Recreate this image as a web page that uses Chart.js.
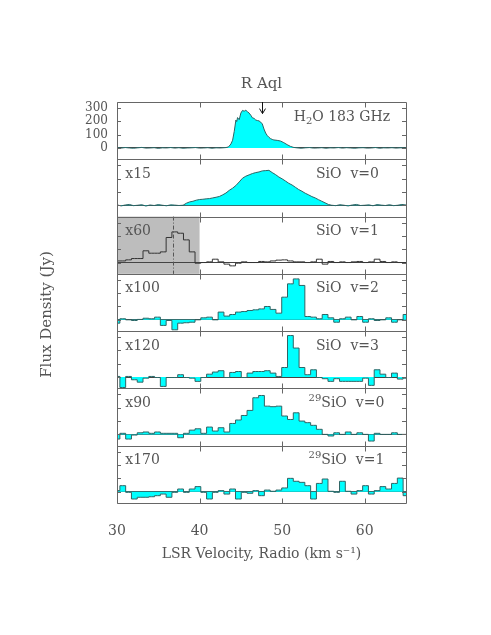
<!DOCTYPE html>
<html>
<head>
<meta charset="utf-8">
<script src="https://cdn.jsdelivr.net/npm/chart.js@4.4.1/dist/chart.umd.min.js"></script>
<style>
  html, body { margin: 0; padding: 0; background: #fff; }
  #box { width: 491px; height: 635px; }
</style>
</head>
<body>
<div id="box"><canvas id="spectra" width="491" height="635"></canvas></div>
<script>
// --- data ---
const h2oVel = [30.0,30.5,31.0,31.5,32.0,32.5,33.0,33.5,34.0,34.5,35.0,35.5,36.0,36.5,37.0,37.5,38.0,38.5,39.0,39.5,40.0,40.5,41.0,41.5,42.0,42.5,43.0,
  43.2,43.5,43.8,44.0,44.2,44.4,44.5,44.6,44.8,45.0,45.2,45.4,45.6,45.8,46.0,46.2,46.4,46.6,46.8,47.0,47.2,47.4,47.6,47.8,48.0,48.2,48.4,48.6,48.8,49.0,
  49.4,49.8,50.2,50.6,51.0,51.4,51.8,
  52.3,52.8,53.3,53.8,54.3,54.8,55.3,55.8,56.3,56.8,57.3,57.8,58.3,58.8,59.3,59.8,60.3,60.8,61.3,61.8,62.3,62.8,63.3,63.8,64.3,64.8,65.0];
const h2oFlux = [2,-1,3,0,-2,1,4,-1,0,2,-3,1,0,3,-1,2,-2,0,1,3,-1,0,2,-2,1,0,2,
  3,8,30,58,125,210,198,228,212,262,282,276,283,272,262,246,226,222,210,206,203,194,180,142,112,93,80,70,64,60,
  57,52,40,25,12,4,1,
  -2,1,3,-1,0,2,-2,1,0,3,-1,2,0,-2,1,2,-1,0,3,-2,1,0,2,-1,1,0,2];

const sioVel0 = [30.0,30.5,31.0,31.5,32.0,32.5,33.0,33.5,34.0,34.5,35.0,35.5,36.0,36.5,37.0,37.5,
  38.0,38.4,38.8,39.2,39.6,40.0,40.4,40.8,41.2,41.6,42.0,42.4,42.8,43.2,43.6,44.0,44.4,44.8,45.2,45.6,46.0,46.4,46.8,47.2,47.6,48.0,48.4,48.8,49.2,49.6,50.0,50.4,50.8,51.2,51.6,52.0,52.4,52.8,53.2,53.6,54.0,54.4,54.8,55.2,55.6,56.0,
  56.5,57.0,57.5,58.0,58.5,59.0,59.5,60.0,60.5,61.0,61.5,62.0,62.5,63.0,63.5,64.0,64.5,65.0];
const sioV0 = [3,-5,2,6,-3,0,4,-6,2,-2,5,0,-4,3,1,-2,
  0,15,25,30,38,43,45,48,50,55,60,66,78,92,112,128,148,175,203,218,228,238,245,250,258,260,262,245,230,212,198,182,165,152,135,118,105,90,78,65,55,42,30,18,6,0,
  -3,4,0,-5,2,6,-2,0,3,-4,5,1,-2,4,-3,0,6,2];

// coarse channels shared by the lower five panels
const chanVel = [30.0,30.7,31.4,32.1,32.8,33.5,34.2,34.9,35.6,36.3,37.0,37.7,38.4,39.1,39.8,40.5,41.2,41.9,42.6,43.3,
  44.0,44.7,45.4,46.1,46.8,47.5,48.2,48.9,49.6,50.3,51.0,51.7,52.4,53.1,53.8,54.5,55.2,55.9,56.6,57.3,
  58.0,58.7,59.4,60.1,60.8,61.5,62.2,62.9,63.6,64.3,65.0];
const sioV1 = [12,12,20,30,30,88,70,70,80,188,230,220,170,80,-5,0,5,25,5,-12,-25,-5,5,0,0,8,5,12,18,20,12,5,5,0,5,25,-12,8,0,5,0,5,8,0,5,25,8,0,5,0,0];
const sioV2 = [-25,8,0,-5,3,12,8,20,-42,-5,-75,-25,-22,-18,0,15,20,0,58,28,40,58,62,70,75,82,100,78,50,170,270,307,258,25,20,8,40,15,-18,8,20,0,25,-18,8,-5,0,15,-18,0,40];
const sioV3 = [5,-78,5,-20,-38,-8,5,-3,-70,-3,-3,18,-3,-8,-32,-3,22,38,48,-3,35,42,-3,30,42,42,48,30,5,72,312,218,72,18,55,-3,-12,-32,-12,-32,-32,-32,-32,-8,-62,55,22,-3,30,-15,-8];
const si29V0 = [-35,8,-35,-5,12,18,8,18,8,8,8,-25,8,32,42,8,55,25,50,18,82,108,142,180,275,292,212,208,212,138,112,162,100,88,68,38,0,-12,12,0,18,0,12,0,-50,8,0,0,12,0,0];
const si29V1 = [8,45,-5,-55,-42,-42,-38,-30,-18,-42,-5,20,-5,20,38,-5,-55,-5,8,-18,20,-55,-5,-12,8,-30,12,3,12,28,100,78,70,45,-55,62,95,3,-5,78,3,-18,8,45,-18,8,38,20,62,102,-30];

const scaleFactors = ['', 'x15', 'x60', 'x100', 'x120', 'x90', 'x170'];
const lineNames = ['H2O 183 GHz', 'SiO  v=0', 'SiO  v=1', 'SiO  v=2', 'SiO  v=3', '29SiO  v=0', '29SiO  v=1'];
const xTicks = [30, 40, 50, 60];
const yTicks = [0, 100, 200, 300];
const grayBand = [30, 40];
const dashVel = 36.8;
const arrowVel = 47.5;

const SERIF = "'DejaVu Serif', serif";
const INK = '#555';
const CYAN = '#00ffff';
const EDGE = '#2f6464';

const toXY = (vel, vals) => vel.map((v, i) => ({ x: v, y: vals[i] }));

const panels = [
  { vel: h2oVel, vals: h2oFlux, fill: true, stepped: false },
  { vel: sioVel0, vals: sioV0, fill: true, stepped: false },
  { vel: chanVel, vals: sioV1, fill: false, stepped: 'middle' },
  { vel: chanVel, vals: sioV2, fill: true, stepped: 'middle' },
  { vel: chanVel, vals: sioV3, fill: true, stepped: 'middle' },
  { vel: chanVel, vals: si29V0, fill: true, stepped: 'middle' },
  { vel: chanVel, vals: si29V1, fill: true, stepped: 'middle' }
];

const isTick = (list, v) => list.some(t => Math.abs(t - v) < 1e-6);

const scales = {
  x: {
    type: 'linear', position: 'bottom', min: 30, max: 65,
    grid: { display: false },
    border: { display: false },
    ticks: {
      stepSize: 10, autoSkip: false, maxRotation: 0, padding: 12, color: INK, includeBounds: false,
      font: { family: SERIF, size: 14 },
      callback: v => (isTick(xTicks, v) ? Math.round(v) : '')
    },
    title: {
      display: true, text: 'LSR Velocity, Radio (km s\u207B\u00B9)', color: INK,
      font: { family: SERIF, size: 14 }, padding: { top: 0, bottom: 2 }
    },
    afterFit: s => { s.height = 62; }
  }
};
panels.forEach((p, i) => {
  scales['y' + i] = {
    type: 'linear', position: 'left', stack: 'spectra', stackWeight: 1, weight: 10 - i,
    min: -85, max: 345,
    grid: {
      drawTicks: false,
      color: c => (c.tick && Math.abs(c.tick.value) < 1e-6 ? '#444' : 'rgba(0,0,0,0)')
    },
    border: { display: false },
    ticks: {
      display: i === 0, stepSize: 100, autoSkip: false, includeBounds: false, padding: 9, color: INK,
      font: { family: SERIF, size: 12 },
      callback: v => (isTick(yTicks, v) ? Math.round(v) : '')
    },
    afterFit: s => { s.width = 117; }
  };
});

const datasets = panels.map((p, i) => ({
  data: toXY(p.vel, p.vals),
  yAxisID: 'y' + i,
  xAxisID: 'x',
  borderColor: i === 2 ? '#333' : EDGE,
  borderWidth: 1,
  backgroundColor: CYAN,
  fill: p.fill ? 'origin' : false,
  stepped: p.stepped,
  pointRadius: 0,
  tension: 0
}));

function drawLabel(ctx, x, y, text) {
  // handles H2O subscript and 29SiO superscript
  ctx.textBaseline = 'middle';
  ctx.textAlign = 'left';
  const big = '14px ' + SERIF, small = '10px ' + SERIF;
  let parts;
  if (text.startsWith('H2O')) parts = [['H', big, 0], ['2', small, 4], ['O 183 GHz', big, 0]];
  else if (text.startsWith('29')) parts = [['29', small, -5], [text.slice(2), big, 0]];
  else parts = [[text, big, 0]];
  parts.forEach(([t, f, dy]) => {
    ctx.font = f;
    ctx.fillText(t, x, y + dy);
    x += ctx.measureText(t).width;
  });
}

const decor = {
  id: 'decor',
  beforeDraw(chart) {
    const { ctx } = chart, xs = chart.scales.x, ys = chart.scales.y2;
    const x0 = xs.getPixelForValue(grayBand[0]), x1 = xs.getPixelForValue(grayBand[1]);
    ctx.save();
    ctx.fillStyle = '#bdbdbd';
    ctx.fillRect(x0, ys.top, x1 - x0, ys.bottom - ys.top);
    ctx.restore();
  },
  afterDatasetsDraw(chart) {
    const { ctx, chartArea: ca } = chart, xs = chart.scales.x;
    ctx.save();
    // dash-dot marker in SiO v=1 panel
    const y2 = chart.scales.y2, dx = Math.round(xs.getPixelForValue(dashVel)) + 0.5;
    ctx.strokeStyle = '#555';
    ctx.setLineDash([4, 2, 1, 2]);
    ctx.beginPath(); ctx.moveTo(dx, y2.top); ctx.lineTo(dx, y2.bottom); ctx.stroke();
    ctx.setLineDash([]);

    // frames and inward ticks
    ctx.strokeStyle = '#666';
    ctx.lineWidth = 1;
    panels.forEach((p, i) => {
      const s = chart.scales['y' + i];
      const top = Math.round(s.top) + 0.5, bot = Math.round(s.bottom) + 0.5;
      ctx.beginPath();
      ctx.rect(Math.round(ca.left) + 0.5, top, Math.round(ca.right - ca.left), bot - top);
      xTicks.forEach(v => {
        const px = Math.round(xs.getPixelForValue(v)) + 0.5;
        ctx.moveTo(px, top); ctx.lineTo(px, top + 5);
        ctx.moveTo(px, bot); ctx.lineTo(px, bot - 5);
      });
      yTicks.forEach(v => {
        const py = Math.round(s.getPixelForValue(v)) + 0.5;
        ctx.moveTo(ca.left, py); ctx.lineTo(ca.left + 4, py);
        ctx.moveTo(ca.right, py); ctx.lineTo(ca.right - 4, py);
      });
      ctx.stroke();
    });

    // arrow over the H2O line
    const y0 = chart.scales.y0, ax = Math.round(xs.getPixelForValue(arrowVel)) + 0.5;
    const tip = y0.getPixelForValue(258);
    ctx.strokeStyle = '#111';
    ctx.beginPath();
    ctx.moveTo(ax, y0.top); ctx.lineTo(ax, tip);
    ctx.moveTo(ax - 3, tip - 5); ctx.lineTo(ax, tip); ctx.lineTo(ax + 3, tip - 5);
    ctx.stroke();

    // panel texts
    ctx.fillStyle = INK;
    panels.forEach((p, i) => {
      const s = chart.scales['y' + i];
      const yMid = s.top + 15;
      if (scaleFactors[i]) drawLabel(ctx, xs.getPixelForValue(31.0), yMid, scaleFactors[i]);
      const startVel = i === 0 ? 51.4 : (i >= 5 ? 53.2 : 54.1);
      drawLabel(ctx, xs.getPixelForValue(startVel), yMid, lineNames[i]);
    });

    // title and y label
    ctx.font = '15px ' + SERIF;
    ctx.textAlign = 'center';
    ctx.textBaseline = 'middle';
    ctx.fillText('R Aql', (ca.left + ca.right) / 2, ca.top - 18);
    ctx.translate(47, (ca.top + ca.bottom) / 2 + 12);
    ctx.rotate(-Math.PI / 2);
    ctx.fillText('Flux Density (Jy)', 0, 0);
    ctx.restore();
  }
};

new Chart(document.getElementById('spectra'), {
  type: 'line',
  data: { datasets },
  options: {
    responsive: false,
    animation: false,
    layout: { padding: { top: 102, right: 85, bottom: 70, left: 0 } },
    scales,
    plugins: { legend: { display: false }, tooltip: { enabled: false }, title: { display: false } }
  },
  plugins: [decor]
});
</script>
</body>
</html>
